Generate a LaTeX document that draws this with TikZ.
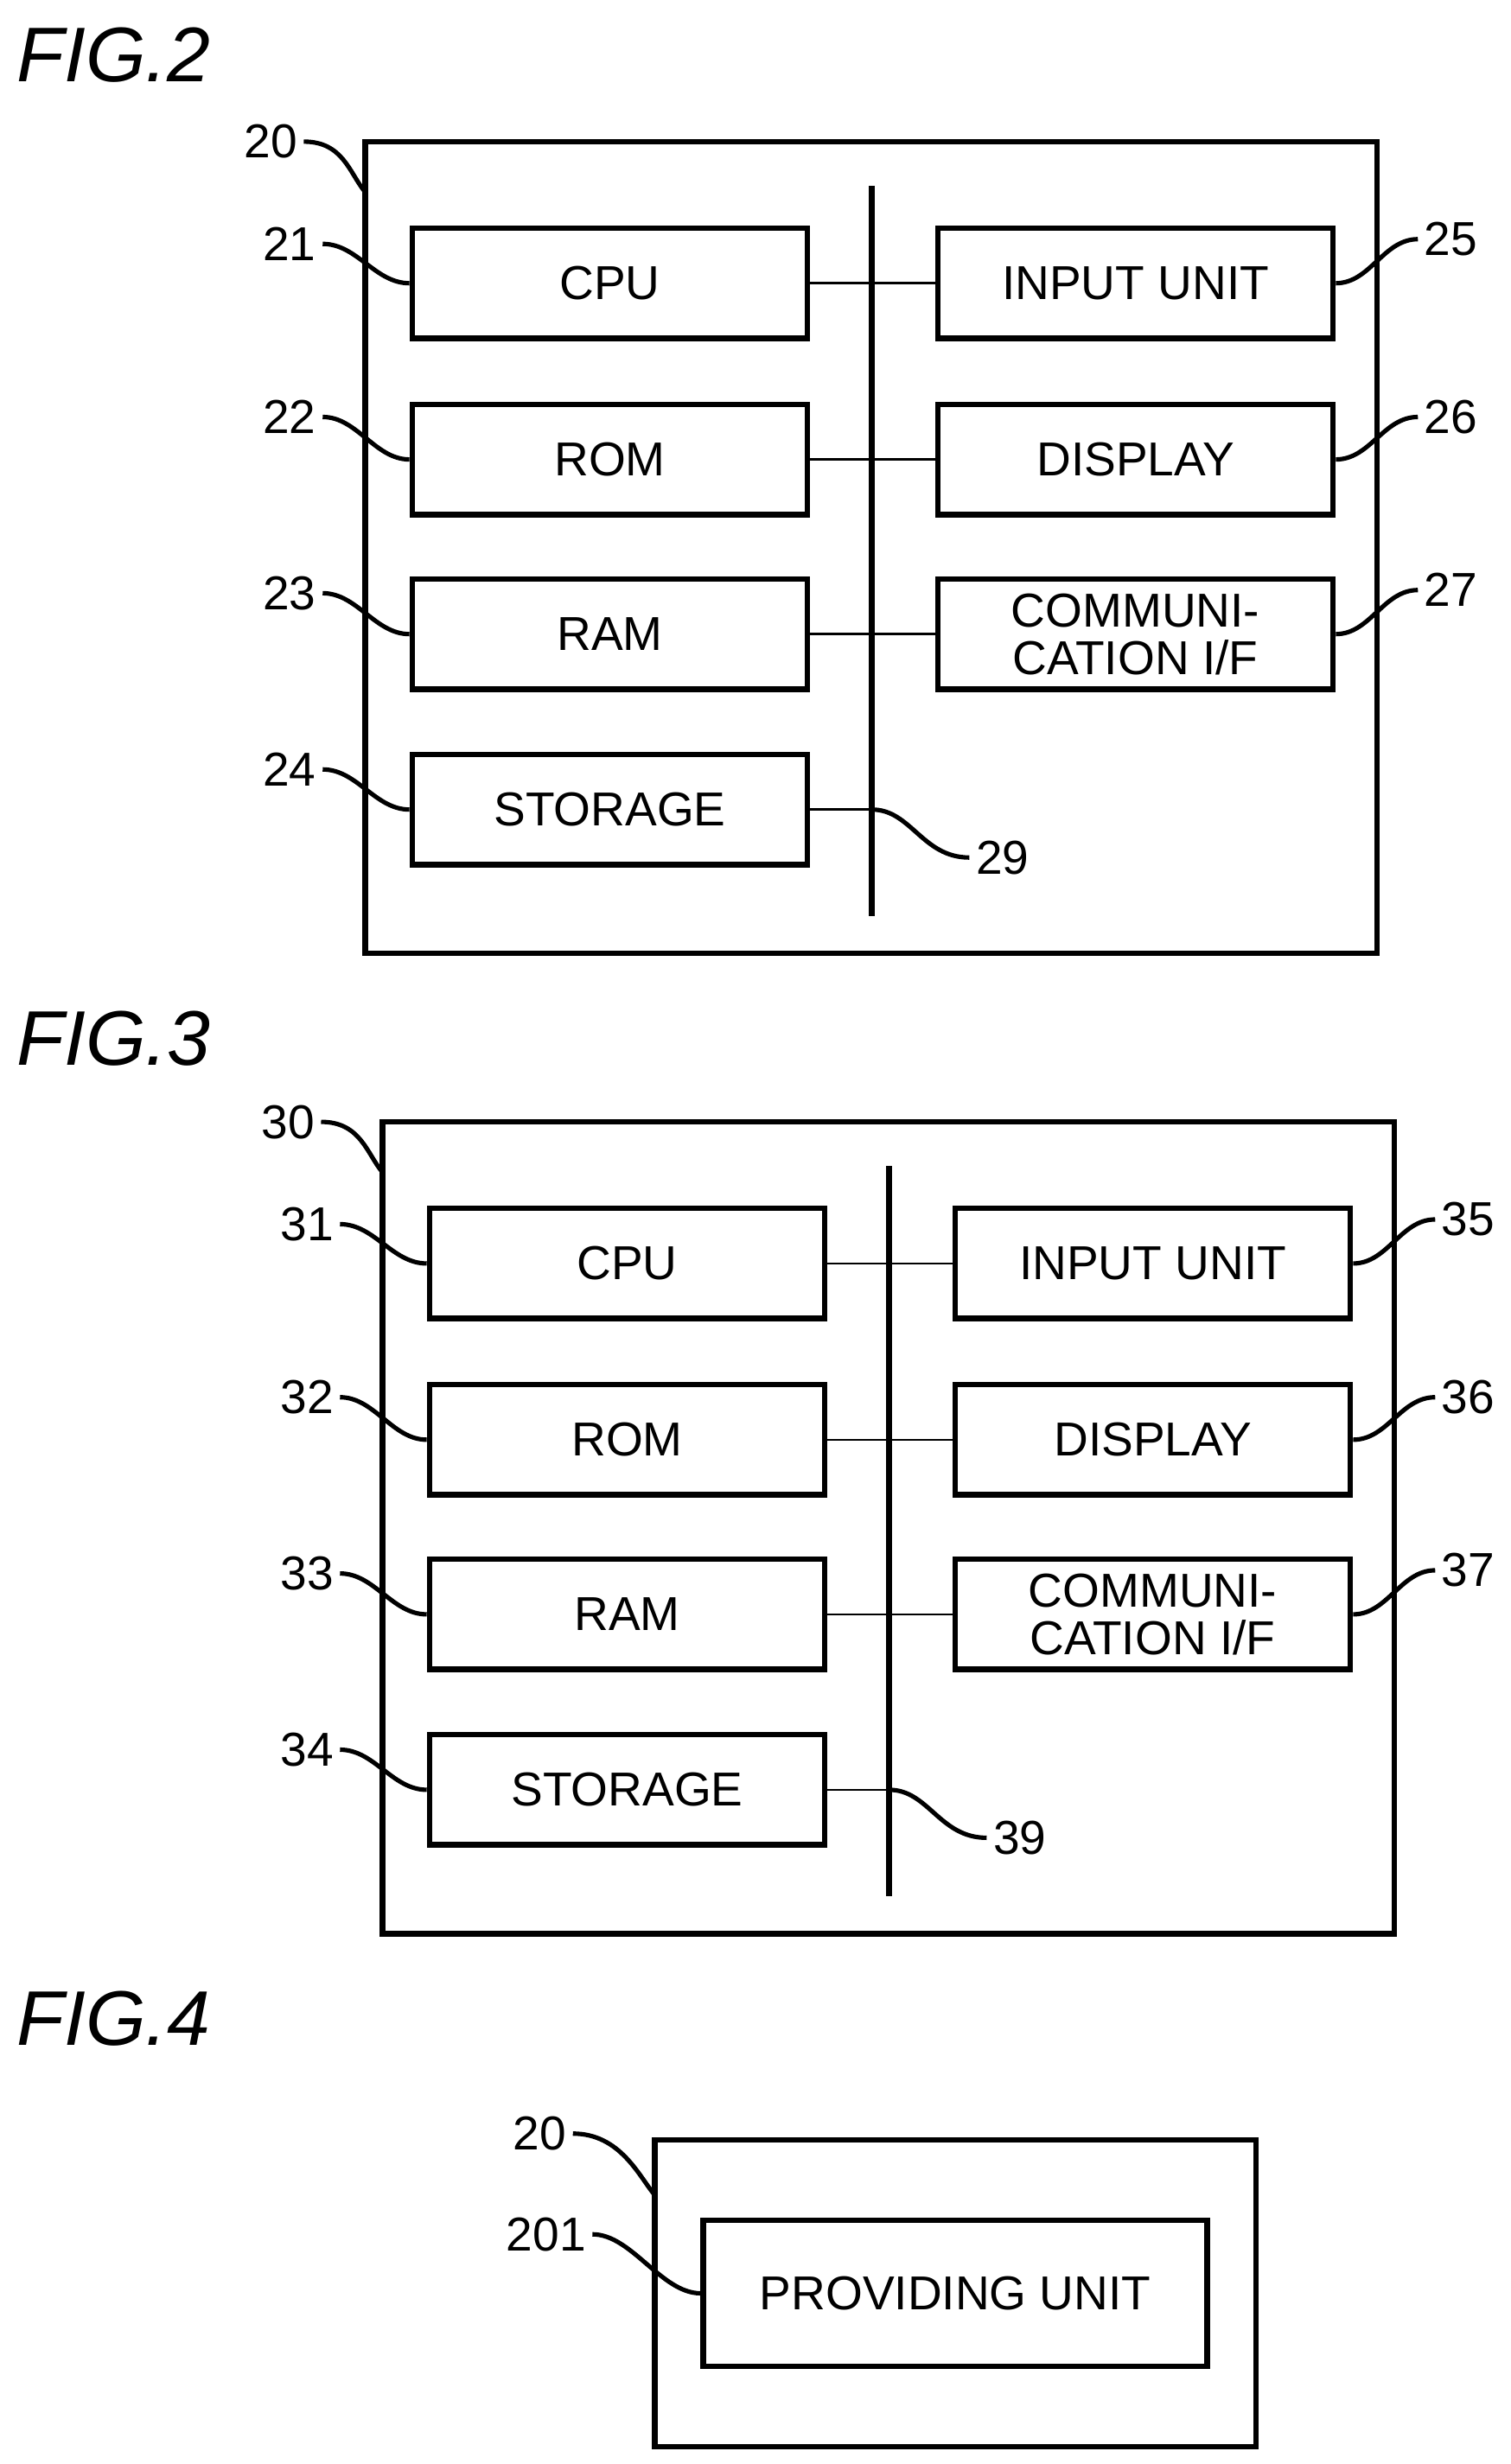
\documentclass[tikz,border=0pt]{standalone}
\usepackage{fontspec}
\setmainfont{Liberation Sans}
\usetikzlibrary{positioning}

\tikzset{
  blk/.style={draw,line width=1pt,minimum width=2.51cm,minimum height=0.70cm,
              align=center,inner sep=0pt,font=\fontsize{8.6}{8.6}\selectfont},
  ref/.style={font=\fontsize{8.6}{9}\selectfont,inner sep=1pt},
  lead/.style={line width=0.8pt},
  fig/.style={font=\fontsize{14}{15}\selectfont\itshape,inner sep=0pt,anchor=west}
}

% one hardware block diagram, #1 = tens digit of the reference numbers
\newcommand\hwunit[1]{%
  \draw[line width=1pt] (232,90) rectangle (875,606);
  \coordinate (bt#1) at (554,118);
  \coordinate (bb#1) at (554,582);
  \draw[line width=1pt] (bt#1) -- (bb#1);
  \node[blk] (cpu#1) at (387.5,180) {CPU};
  \node[blk] (rom#1) at (387.5,292) {ROM};
  \node[blk] (ram#1) at (387.5,403) {RAM};
  \node[blk] (sto#1) at (387.5,514.5) {STORAGE};
  \node[blk] (inp#1) at (721.5,180) {INPUT UNIT};
  \node[blk] (dsp#1) at (721.5,292) {DISPLAY};
  \node[blk] (com#1) at (721.5,403) {COMMUNI-\\CATION I/F};
  \foreach \n in {cpu,rom,ram,sto}
    \draw (\n#1.east) -- (\n#1.east -| bt#1);
  \foreach \n in {inp,dsp,com}
    \draw (\n#1.west) -- (\n#1.west -| bt#1);
  % reference numbers
  \node[ref] (r#10) at (172,90) {#10};
  \draw[lead] (r#10.east) .. controls +(25,0) and +(-10,-12) .. (232,122);
  \foreach \n/\y/\b in {1/155/cpu,2/265/rom,3/377/ram,4/489/sto}{
    \node[ref] (r#1\n) at (184,\y) {#1\n};
    \draw[lead] (r#1\n.east) .. controls +(22,0) and +(-22,0) .. (\b#1.west);
  }
  \foreach \n/\y/\b in {5/152/inp,6/265/dsp,7/375/com}{
    \node[ref] (r#1\n) at (922,\y) {#1\n};
    \draw[lead] (r#1\n.west) .. controls +(-22,0) and +(22,0) .. (\b#1.east);
  }
  \node[ref] (r#19) at (637,545) {#19};
  \draw[lead] (r#19.west) .. controls +(-30,0) and +(25,0) .. (bb#1 |- sto#1.east);
}

\begin{document}
\begin{tikzpicture}[x=0.01cm,y=-0.01cm]
  \useasboundingbox (0,0) rectangle (960,1566);

  \node[fig] (f2) at (10,35) {FIG.2};
  \hwunit{2}

  \node[fig] (f3) at (10,660) {FIG.3};
  \begin{scope}[shift={(11,623)}]
    \hwunit{3}
  \end{scope}

  \node[fig] (f4) at (10,1283) {FIG.4};
  \draw[line width=1pt] (416,1360) rectangle (798,1555);
  \node[blk,minimum width=3.20cm,minimum height=0.93cm] (prov) at (607,1457.5) {PROVIDING UNIT};
  \node[ref] (r20b) at (343,1356) {20};
  \draw[lead] (r20b.east) .. controls +(30,0) and +(-10,-12) .. (416,1395);
  \node[ref] (r201) at (347,1420) {201};
  \draw[lead] (r201.east) .. controls +(25,0) and +(-25,0) .. (prov.west);
\end{tikzpicture}
\end{document}
